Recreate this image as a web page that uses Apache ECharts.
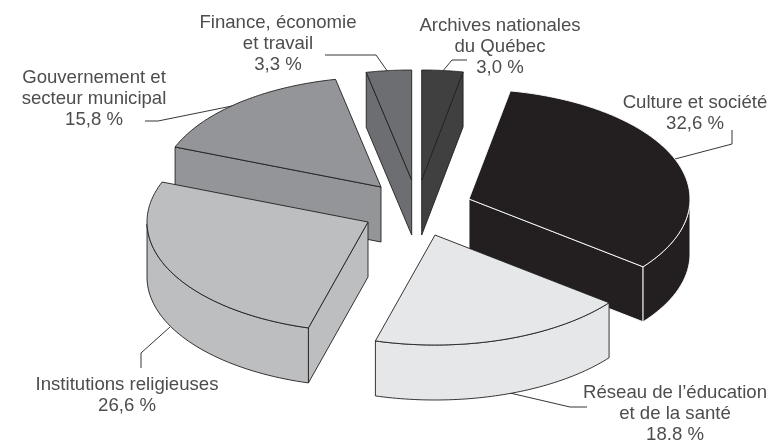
<!DOCTYPE html>
<html><head><meta charset="utf-8">
<style>html,body{margin:0;padding:0;background:#fff}#c{width:769px;height:440px}</style>
<script src="https://cdn.jsdelivr.net/npm/echarts@6/dist/echarts.min.js"></script>
</head><body><div id="c"></div>
<script>
// --- data, clockwise from 12 o'clock ---
const categories = ['Archives nationales du Québec','Culture et société','Réseau de l’éducation et de la santé','Institutions religieuses','Gouvernement et secteur municipal','Finance, économie et travail'];
const shares = [3.0, 32.6, 18.8, 26.6, 15.8, 3.3];
const shareLabels = ['3,0 %','32,6 %','18.8 %','26,6 %','15,8 %','3,3 %'];
const labelLines = [['Archives nationales','du Québec'],['Culture et société'],['Réseau de l’éducation','et de la santé'],['Institutions religieuses'],['Gouvernement et','secteur municipal'],['Finance, économie','et travail']];

// --- look and layout ---
const fills = ['#404041','#231f20','#e6e7e8','#bcbec0','#939598','#6d6e71'];
const strokes = ['#231f20','#ffffff','#231f20','#231f20','#231f20','#231f20'];
const paintOrder = [1,4,5,3,2,0];
const pie = {cx:416, cy:208, a:221, b:110, depth:55};
const explode = [[5.7,-28],[53,-9],[19,27],[-48,14],[-35,-21],[-4.3,-28]];
const labelAnchor = [[500,26],[695,103],[675,393],[127,385],[94,78],[278,23]];
const labelRowHeight = 20.7;
const leaders = [
  [[467,60],[452,60],[442,72]],
  [[675,159],[732,144],[732,130]],
  [[510,393],[570,407],[587,407]],
  [[170,327],[141,353],[141,368]],
  [[145,121],[158,121],[237,105]],
  [[325,55],[376,55],[388,72]]
];
const total = shares.reduce((s,v)=>s+v,0);
const startOf = i => shares.slice(0,i).reduce((s,v)=>s+v,0)/total*Math.PI*2;

function renderSlice(params, api){
  const i = params.dataIndex, v = api.value(0);
  const t0 = startOf(i), t1 = t0 + v/total*Math.PI*2;
  const ox = pie.cx+explode[i][0], oy = pie.cy+explode[i][1];
  const rim = t => [ox+pie.a*Math.sin(t), oy-pie.b*Math.cos(t)];
  const down = p => [p[0], p[1]+pie.depth];
  const style = {fill:fills[i], stroke:strokes[i], lineWidth:0.9, lineJoin:'round'};
  const z = 10+paintOrder[i]*10;
  const children = [];
  const n = 60, arc = [];
  for(let k=0;k<=n;k++) arc.push(rim(t0+(t1-t0)*k/n));
  const apex = [ox,oy];
  const wall = (pts,zz)=>children.push({type:'polygon',z2:zz,shape:{points:pts.concat(pts.map(down).reverse())},style});
  // radial walls facing the viewer
  if(Math.sin(t0)<0) wall([apex,rim(t0)],z);
  if(Math.sin(t1)>0) wall([apex,rim(t1)],z);
  // outer wall: the front half of the rim only
  const front = arc.filter((_,k)=>Math.cos(t0+(t1-t0)*k/n)<=0);
  if(front.length>1) wall(front,z+1);
  // top face
  children.push({type:'polygon',z2:z+2,shape:{points:[apex].concat(arc)},style});
  return {type:'group',children};
}
function renderLabel(params, api){
  const i = params.dataIndex;
  const rows = labelLines[i].concat([shareLabels[i]]);
  const children = rows.map((t,r)=>({type:'text',z2:200,style:{
    x:labelAnchor[i][0], y:labelAnchor[i][1]+r*labelRowHeight, text:t,
    fill:'#4d4d4f', font:'18.6px "Liberation Sans", Arial, sans-serif',
    align:'center', verticalAlign:'middle'}}));
  children.push({type:'polyline',z2:5,shape:{points:leaders[i]},style:{fill:null,stroke:'#231f20',lineWidth:0.9}});
  return {type:'group',children};
}
const chart = echarts.init(document.getElementById('c'),null,{renderer:'canvas'});
chart.setOption({
  animation:false,
  backgroundColor:'#fff',
  series:[
    {type:'custom',coordinateSystem:'none',silent:true,renderItem:renderSlice,data:shares.map((v,i)=>({name:categories[i],value:[v]}))},
    {type:'custom',coordinateSystem:'none',silent:true,renderItem:renderLabel,data:shares.map((v,i)=>({name:categories[i],value:[v]}))}
  ]
});
</script></body></html>
